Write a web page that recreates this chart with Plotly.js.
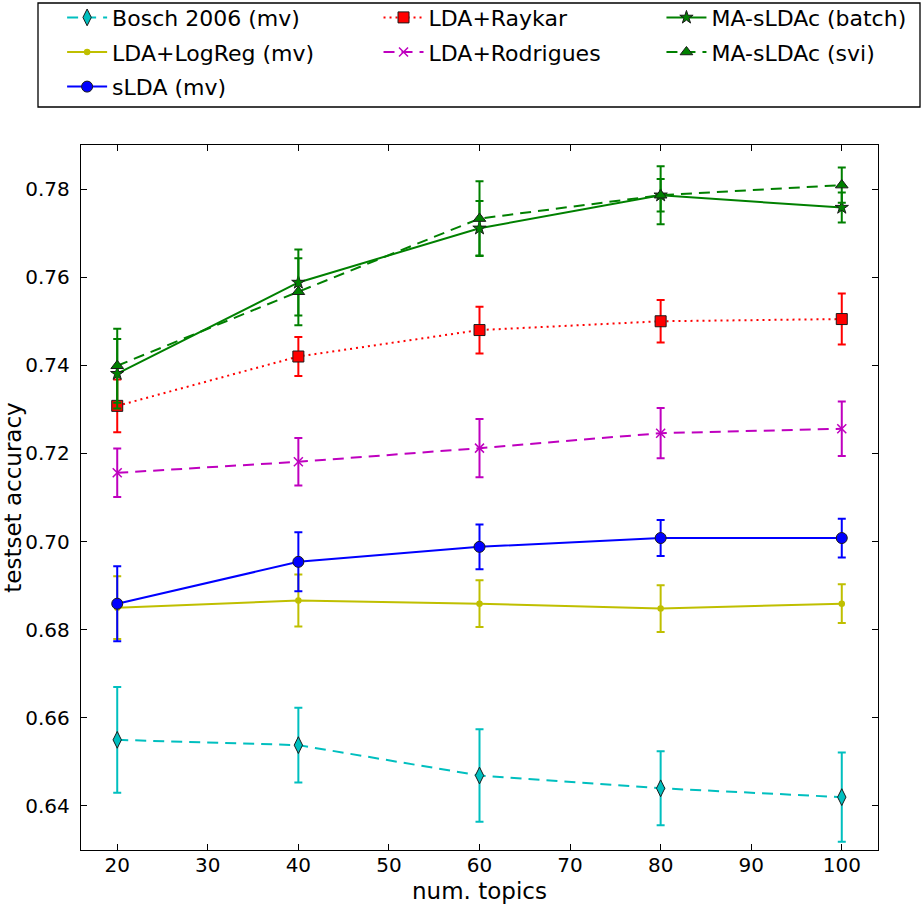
<!DOCTYPE html>
<html>
<head>
<meta charset="utf-8">
<script src="https://cdn.plot.ly/plotly-3.0.1.min.js"></script>
<style>html,body{margin:0;padding:0;background:#fff;}#chart{width:923px;height:904px;}</style>
</head>
<body>
<div id="chart"></div>
<script>
// ---- data ----
const numTopics = [20, 40, 60, 80, 100];

const boschMean = [0.6550, 0.6538, 0.6469, 0.6440, 0.6420];
const boschErr  = [0.0120, 0.0085, 0.0105, 0.0084, 0.0101];

const logregMean = [0.6850, 0.6866, 0.6859, 0.6848, 0.6859];
const logregErr  = [0.0071, 0.0059, 0.0053, 0.0053, 0.0044];

const sldaMean = [0.6859, 0.6954, 0.6988, 0.7008, 0.7008];
const sldaErr  = [0.0085, 0.0067, 0.0051, 0.0041, 0.0044];

const raykarMean = [0.7308, 0.7420, 0.7480, 0.7500, 0.7505];
const raykarErr  = [0.0060, 0.0044, 0.0053, 0.0048, 0.0058];

const rodriguesMean = [0.7156, 0.7181, 0.7212, 0.7246, 0.7256];
const rodriguesErr  = [0.0055, 0.0054, 0.0066, 0.0057, 0.0062];

const batchMean = [0.7381, 0.7588, 0.7711, 0.7786, 0.7758];
const batchErr  = [0.0079, 0.0075, 0.0062, 0.0037, 0.0034];

const sviMean = [0.7399, 0.7567, 0.7733, 0.7786, 0.7809];
const sviErr  = [0.0084, 0.0076, 0.0085, 0.0066, 0.0040];

const seriesNames = ["Bosch 2006 (mv)", "LDA+LogReg (mv)", "sLDA (mv)", "LDA+Raykar",
                     "LDA+Rodrigues", "MA-sLDAc (batch)", "MA-sLDAc (svi)"];
const xTicks = [20, 30, 40, 50, 60, 70, 80, 90, 100];
const yTicks = [0.64, 0.66, 0.68, 0.70, 0.72, 0.74, 0.76, 0.78];

// ---- styles ----
const FONT = "DejaVu Sans, sans-serif";
function mk(name, y, err, color, dash, symbol, msize, edge, legend, group) {
  return {
    type: "scatter", mode: "lines+markers", name: name, x: numTopics, y: y,
    legend: legend, legendgroup: group,
    line: {color: color, width: 2, dash: dash},
    marker: {symbol: symbol, size: msize, color: color,
             line: {color: edge ? "#1a1a1a" : color, width: edge ? 1 : 1.5}},
    error_y: {type: "data", array: err, visible: true, color: color, thickness: 2, width: 4}
  };
}

const traces = [
  mk(seriesNames[0], boschMean, boschErr, "#00bfbf", "11px,7px", "diamond-tall", 12, true, "legend", "g1"),
  mk(seriesNames[1], logregMean, logregErr, "#bfbf00", "solid", "circle", 5, false, "legend", "g2"),
  mk(seriesNames[2], sldaMean, sldaErr, "#0000ff", "solid", "circle", 11, true, "legend", "g3"),
  mk(seriesNames[3], raykarMean, raykarErr, "#ff0000", "2px,4px", "square", 11, true, "legend2", "g4"),
  mk(seriesNames[4], rodriguesMean, rodriguesErr, "#bf00bf", "11px,7px", "x-thin", 9, false, "legend2", "g5"),
  mk(seriesNames[5], batchMean, batchErr, "#008000", "solid", "star", 10, true, "legend3", "g6"),
  mk(seriesNames[6], sviMean, sviErr, "#008000", "11px,7px", "triangle-up", 11, true, "legend3", "g7")
];

const legBase = {
  orientation: "v", xanchor: "left", yanchor: "top", y: 1.2105,
  bgcolor: "rgba(0,0,0,0)", borderwidth: 0,
  font: {family: FONT, size: 22, color: "#000"}, tracegroupgap: 3, itemwidth: 40
};

const axisCommon = {
  showgrid: false, zeroline: false, showline: true, mirror: "ticks",
  linecolor: "#000", linewidth: 1.3, ticks: "inside", ticklen: 6, tickwidth: 1,
  tickcolor: "#000", tickfont: {family: FONT, size: 20, color: "#000"}
};

const layout = {
  width: 923, height: 904,
  margin: {l: 81, r: 45, t: 145, b: 54, autoexpand: false},
  paper_bgcolor: "#fff", plot_bgcolor: "#fff",
  showlegend: true,
  legend: Object.assign({}, legBase, {x: -0.0237}),
  legend2: Object.assign({}, legBase, {x: 0.3733}),
  legend3: Object.assign({}, legBase, {x: 0.7283}),
  xaxis: Object.assign({}, axisCommon, {
    range: [16, 104], tickvals: xTicks, ticktext: xTicks.map(String),
    ticklabelstandoff: -3,
    title: {text: "num. topics", font: {family: FONT, size: 23, color: "#000"}, standoff: 11}
  }),
  yaxis: Object.assign({}, axisCommon, {
    range: [0.63, 0.79], tickvals: yTicks, ticktext: yTicks.map(v => v.toFixed(2)),
    ticklabelstandoff: 6,
    title: {text: "testset accuracy", font: {family: FONT, size: 23, color: "#000"}, standoff: 6}
  }),
  shapes: [{
    type: "rect", xref: "paper", yref: "paper",
    x0: (38 - 81) / 797, x1: (920 - 81) / 797,
    y0: 1 + (145 - 107) / 705, y1: 1 + (145 - 3) / 705,
    line: {color: "#000", width: 1.3}, fillcolor: "rgba(0,0,0,0)"
  }]
};

Plotly.newPlot("chart", traces, layout, {staticPlot: true, displayModeBar: false});
</script>
</body>
</html>
